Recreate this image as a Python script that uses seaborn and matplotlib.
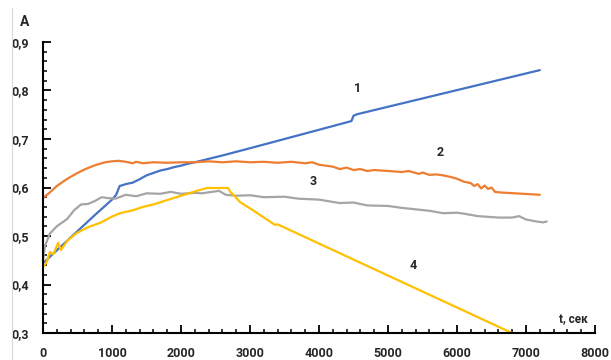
import matplotlib
matplotlib.use('Agg')
from matplotlib import pyplot as plt
from matplotlib.ticker import MultipleLocator, FuncFormatter
from matplotlib.lines import Line2D
import pandas as pd
import seaborn as sns

sns.set_style('ticks')
plt.rcParams['font.family'] = ['Roboto', 'DejaVu Sans']
plt.rcParams['font.weight'] = 'bold'

# curve 1 (blue)
t1 = [0, 250, 500, 750, 1000, 1060, 1110, 1200, 1300, 1400, 1500, 1600, 1700, 1800,
      1900, 2000, 2100, 2200, 2600, 3000, 3500, 4000, 4470, 4500, 4550, 7200]
a1 = [0.444, 0.477, 0.510, 0.543, 0.575, 0.585, 0.603, 0.607, 0.610, 0.617, 0.625,
      0.630, 0.635, 0.638, 0.642, 0.645, 0.649, 0.652, 0.666, 0.681, 0.700, 0.719,
      0.737, 0.748, 0.751, 0.842]

# curve 2 (orange)
t2 = [0, 100, 200, 300, 400, 500, 600, 700, 800, 900, 1000, 1100, 1200, 1300, 1350,
      1450, 1600, 1800, 2000, 2200, 2400, 2600, 2800, 3000, 3200, 3400, 3600, 3800,
      3900, 4000, 4200, 4300, 4400, 4500, 4600, 4700, 4800, 5000, 5200, 5300, 5450,
      5500, 5600, 5700, 5800, 5900, 6000, 6100, 6200, 6250, 6300, 6350, 6400, 6450,
      6500, 6550, 6600, 7200]
a2 = [0.578, 0.590, 0.603, 0.613, 0.622, 0.630, 0.637, 0.643, 0.648, 0.652, 0.654,
      0.655, 0.653, 0.650, 0.653, 0.650, 0.652, 0.651, 0.652, 0.652, 0.654, 0.652,
      0.654, 0.652, 0.653, 0.651, 0.653, 0.650, 0.652, 0.647, 0.643, 0.638, 0.641,
      0.636, 0.638, 0.634, 0.636, 0.634, 0.632, 0.634, 0.628, 0.631, 0.626, 0.627,
      0.625, 0.622, 0.618, 0.612, 0.609, 0.603, 0.607, 0.598, 0.604, 0.597, 0.600,
      0.591, 0.590, 0.585]

# curve 3 (gray)
t3 = [0, 30, 100, 200, 350, 450, 550, 650, 750, 850, 950, 1050, 1200, 1350, 1500,
      1700, 1850, 2000, 2200, 2300, 2450, 2550, 2650, 2800, 3000, 3200, 3500, 3700,
      4000, 4300, 4500, 4700, 5000, 5200, 5400, 5600, 5800, 6000, 6100, 6300, 6600,
      6800, 6900, 7000, 7150, 7250, 7300]
a3 = [0.45, 0.48, 0.505, 0.52, 0.535, 0.553, 0.565, 0.566, 0.572, 0.58, 0.578, 0.577,
      0.585, 0.582, 0.588, 0.587, 0.591, 0.587, 0.589, 0.588, 0.591, 0.593, 0.585,
      0.583, 0.584, 0.580, 0.581, 0.577, 0.575, 0.568, 0.569, 0.563, 0.562, 0.558,
      0.555, 0.552, 0.547, 0.548, 0.546, 0.541, 0.538, 0.538, 0.541, 0.534, 0.530,
      0.528, 0.530]

# curve 4 (yellow)
t4 = [0, 50, 100, 150, 220, 260, 350, 488, 650, 826, 1000, 1116, 1300, 1449, 1600,
      1797, 2000, 2275, 2377, 2681, 2720, 2760, 2855, 3000, 3362, 3400, 6797]
a4 = [0.436, 0.445, 0.467, 0.462, 0.486, 0.471, 0.49, 0.506, 0.518, 0.527, 0.540,
      0.547, 0.553, 0.56, 0.565, 0.574, 0.583, 0.595, 0.599, 0.599, 0.590, 0.585,
      0.570, 0.557, 0.523, 0.524, 0.30]

curve_labels = ['1', '2', '3', '4']
label_t = [4565, 5754, 3913, 5362]
label_a = [0.805, 0.673, 0.613, 0.44]

colors = ['#4472C4', '#ED7D31', '#A5A5A5', '#FFC000']

fig = plt.figure(figsize=(6.11, 3.6), dpi=100)
ax = fig.add_axes([43/611, 1 - 333/360, 552/611, 291/360])

for t, a, c in zip([t1, t2, t3, t4], [a1, a2, a3, a4], colors):
    df = pd.DataFrame({'t': t, 'A': a})
    sns.lineplot(data=df, x='t', y='A', ax=ax, color=c, linewidth=1.6,
                 estimator=None, sort=False)

for s, x, y in zip(curve_labels, label_t, label_a):
    ax.text(x, y, s, fontsize=9, fontweight='bold', ha='center', va='center')

ax.set_xlim(0, 8000)
ax.set_ylim(0.3, 0.9)
ax.set_xlabel('')
ax.set_ylabel('')
sns.despine(ax=ax)
for sp in ['left', 'bottom']:
    ax.spines[sp].set_linewidth(1.5)
    ax.spines[sp].set_color('black')

ax.xaxis.set_major_locator(MultipleLocator(1000))
ax.xaxis.set_minor_locator(MultipleLocator(200))
ax.yaxis.set_major_locator(MultipleLocator(0.1))
ax.yaxis.set_minor_locator(MultipleLocator(0.02))
ax.yaxis.set_major_formatter(FuncFormatter(lambda v, p: f'{v:.1f}'.replace('.', ',')))
ax.tick_params(which='major', direction='in', length=5.5, width=1.3, pad=10,
               labelsize=9, color='black')
ax.tick_params(which='minor', direction='in', length=3, width=1.1, color='black')
for lab in ax.get_xticklabels() + ax.get_yticklabels():
    lab.set_fontweight('bold')

fig.text(25/611, 1 - 22/360, 'A', fontsize=10, fontweight='bold', ha='center', va='center')
fig.text(573/611, 1 - 320/360, 't, сек', fontsize=8.5, fontweight='bold', ha='center', va='center')
fig.add_artist(Line2D([12/611, 12/611], [0, 1 - 8/360], color='#d9d9d9', linewidth=0.8))

plt.savefig('out.png', dpi=100)
